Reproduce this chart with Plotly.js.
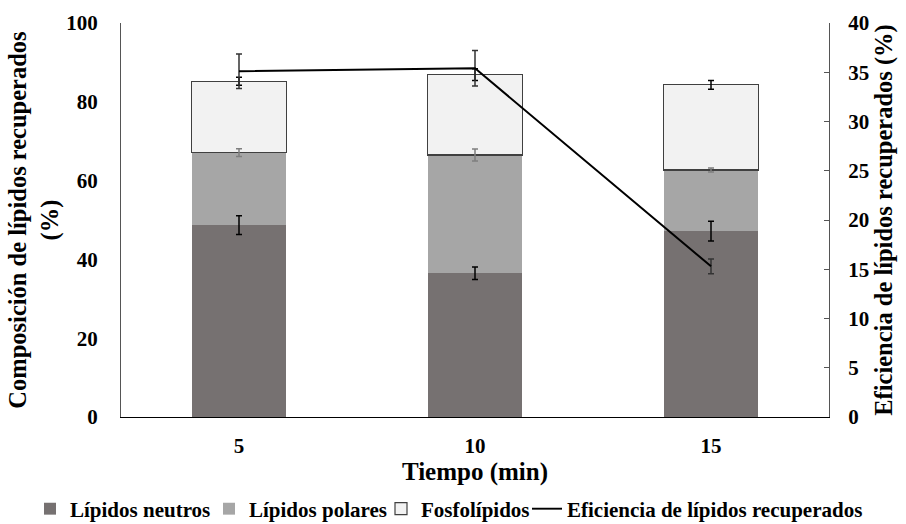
<!DOCTYPE html>
<html>
<head>
<meta charset="utf-8">
<script src="https://cdn.plot.ly/plotly-3.0.1.min.js"></script>
<style>html,body{margin:0;padding:0;background:#fff}#chart{width:906px;height:524px}</style>
</head>
<body>
<div id="chart"></div>
<script>
const tiempos = ["5", "10", "15"];
const neutros = [48.7, 36.5, 47.2];
const neutrosErr = [2.4, 1.6, 2.5];
const polares = [18.4, 30.0, 15.5];
const polaresErr = [1.0, 1.5, 0.5];
const fosfo = [18.1, 20.4, 21.6];
const fosfoErr = [1.0, 1.5, 1.1];
const eficiencia = [35.1, 35.4, 15.3];
const eficienciaErr = [1.75, 1.8, 0.75];

const FONT = "Liberation Serif, Times New Roman, serif";

// cumulative tops of the stacked segments (for error-bar overlays drawn above all bars)
const topNeutros = neutros.slice();
const topPolares = neutros.map((v, i) => v + polares[i]);
const topFosfo = topPolares.map((v, i) => v + fosfo[i]);

function errOverlay(y, err, color) {
  return {
    type: "scatter", mode: "markers", x: tiempos, y: y, showlegend: false, hoverinfo: "skip",
    marker: {size: 1, opacity: 0, color: color},
    error_y: {type: "data", array: err, visible: true, color: color, thickness: 1.5, width: 3}
  };
}

const traces = [
  {type: "bar", name: "Lípidos neutros", x: tiempos, y: neutros, legend: "legend", marker: {color: "#767171"}},
  {type: "bar", name: "Lípidos polares", x: tiempos, y: polares, legend: "legend2", marker: {color: "#a6a6a6"}},
  {type: "bar", name: "Fosfolípidos", x: tiempos, y: fosfo, legend: "legend3",
   marker: {color: "#f2f2f2", line: {color: "#404040", width: 1.2}}},
  errOverlay(topNeutros, neutrosErr, "#000"),
  errOverlay(topPolares, polaresErr, "#7f7f7f"),
  errOverlay(topFosfo, fosfoErr, "#000"),
  {
    type: "scatter", mode: "lines", name: "Eficiencia de lípidos recuperados",
    x: tiempos, y: eficiencia, yaxis: "y2", legend: "legend4",
    line: {color: "#000", width: 2},
    error_y: {type: "data", array: eficienciaErr, visible: true, color: "#333", thickness: 1.5, width: 3}
  }
];

function leg(xpx) {
  return {
    orientation: "h", xref: "container", yref: "container",
    x: xpx / 906, xanchor: "left", y: 1 - 509 / 524, yanchor: "middle",
    font: {family: FONT, size: 21, color: "#000", weight: "bold"},
    bgcolor: "rgba(0,0,0,0)", borderwidth: 0, itemwidth: 30
  };
}

const layout = {
  width: 906, height: 524,
  margin: {l: 121, r: 77, t: 23, b: 107},
  paper_bgcolor: "#fff", plot_bgcolor: "#fff",
  barmode: "stack", bargap: 0.6,
  font: {family: FONT, size: 21, color: "#000", weight: "bold"},
  showlegend: true,
  legend: leg(30),
  legend2: leg(209),
  legend3: leg(381),
  legend4: leg(527),
  xaxis: {
    type: "category",
    showline: true, linecolor: "#000", linewidth: 1.2,
    ticks: "", showgrid: false, zeroline: false,
    tickfont: {family: FONT, size: 21, weight: "bold"},
    ticklabelstandoff: 10,
    title: {text: "Tiempo (min)", font: {family: FONT, size: 25, weight: "bold"}, standoff: 2}
  },
  yaxis: {
    range: [0, 100], dtick: 20,
    showline: true, linecolor: "#555", linewidth: 1,
    ticks: "", showgrid: false, zeroline: false,
    tickfont: {family: FONT, size: 21, weight: "bold"},
    ticklabelstandoff: 18,
    title: {text: "Composición de lípidos recuperados<br>(%)", font: {family: FONT, size: 24.5, weight: "bold"}, standoff: 0}
  },
  yaxis2: {
    overlaying: "y", side: "right",
    range: [0, 40], dtick: 5,
    showline: true, linecolor: "#555", linewidth: 1,
    ticks: "inside", ticklen: 5, tickcolor: "#555",
    showgrid: false, zeroline: false,
    tickfont: {family: FONT, size: 21, weight: "bold"},
    ticklabelstandoff: 14,
    title: {text: "Eficiencia de lípidos recuperados (%)", font: {family: FONT, size: 24.5, weight: "bold"}, standoff: 6}
  }
};

Plotly.newPlot("chart", traces, layout, {displayModeBar: false, staticPlot: true});
</script>
</body>
</html>
